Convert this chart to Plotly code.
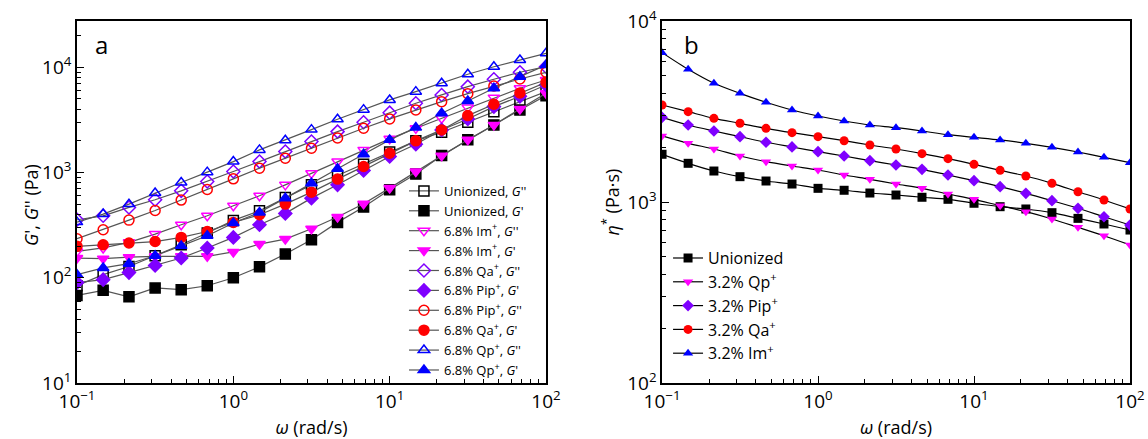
import plotly.graph_objects as go
from plotly.subplots import make_subplots

# ---------------- data ----------------
omega = [0.1, 0.147, 0.215, 0.316, 0.464, 0.681, 1.0, 1.47, 2.15, 3.16,
         4.64, 6.81, 10.0, 14.7, 21.5, 31.6, 46.4, 68.1, 100.0]

# panel a : G' and G'' (Pa)
union_Gpp = [84, 107, 128, 162, 206, 266, 351, 433, 579, 764, 937, 1202, 1563, 2000, 2415, 3007, 3790, 4717, 5870]
union_Gp = [68, 76, 66, 80, 77, 84, 100, 127, 168, 230, 336, 470, 685, 966, 1449, 2044, 2836, 3936, 5380]
im_Gpp = [178, 192, 217, 260, 319, 388, 483, 601, 764, 986, 1271, 1641, 2089, 2638, 3281, 4140, 5150, 6322, 7580]
im_Gp = [154, 152, 157, 160, 160, 160, 176, 209, 233, 292, 378, 505, 711, 1023, 1440, 2044, 2836, 4018, 5667]
qa_Gpp = [356, 388, 466, 551, 670, 822, 1023, 1271, 1582, 1968, 2449, 3007, 3707, 4552, 5462, 6547, 7696, 8970, 10130]
pip_Gp = [90, 96, 112, 131, 154, 192, 242, 319, 409, 571, 764, 1045, 1419, 1860, 2541, 3231, 4230, 5300, 6800]
pip_Gpp = [235, 286, 353, 436, 547, 690, 871, 1101, 1370, 1703, 2134, 2638, 3231, 3936, 4717, 5619, 6650, 7743, 8970]
qa_Gp = [199, 206, 214, 221, 242, 275, 336, 397, 501, 651, 866, 1140, 1528, 2000, 2541, 3474, 4456, 5700, 7200]
qp_Gpp = [338, 403, 501, 638, 804, 1009, 1271, 1641, 2029, 2558, 3212, 3960, 4896, 5869, 7052, 8585, 10130, 11730, 13580]
qp_Gp = [107, 124, 136, 162, 201, 251, 331, 418, 571, 793, 1084, 1495, 2044, 2673, 3661, 4790, 6322, 8150, 10510]

# panel b : complex viscosity (Pa s)
union_eta = [1835, 1636, 1483, 1380, 1306, 1257, 1190, 1161, 1121, 1093, 1062, 1035, 984, 942, 915, 873, 812, 756, 700]
qp_eta = [2317, 2110, 1963, 1795, 1671, 1581, 1503, 1410, 1335, 1257, 1190, 1107, 1035, 954, 884, 806, 725, 651, 579]
pip_eta = [2938, 2663, 2467, 2296, 2138, 2014, 1897, 1795, 1691, 1601, 1516, 1410, 1312, 1215, 1117, 1017, 923, 829, 746]
qa_eta = [3436, 3155, 2900, 2722, 2553, 2415, 2296, 2181, 2065, 1963, 1849, 1735, 1615, 1496, 1392, 1268, 1140, 1026, 915]
im_eta = [6683, 5408, 4528, 3985, 3556, 3222, 2987, 2803, 2663, 2574, 2467, 2354, 2277, 2202, 2110, 2005, 1889, 1766, 1649]

labels_a = ["Unionized, <i>G</i>''", "Unionized, <i>G</i>'",
            "6.8% Im<sup>+</sup>, <i>G</i>''", "6.8% Im<sup>+</sup>, <i>G</i>'",
            "6.8% Qa<sup>+</sup>, <i>G</i>''", "6.8% Pip<sup>+</sup>, <i>G</i>'",
            "6.8% Pip<sup>+</sup>, <i>G</i>''", "6.8% Qa<sup>+</sup>, <i>G</i>'",
            "6.8% Qp<sup>+</sup>, <i>G</i>''", "6.8% Qp<sup>+</sup>, <i>G</i>'"]
labels_b = ["Unionized", "3.2% Qp<sup>+</sup>", "3.2% Pip<sup>+</sup>",
            "3.2% Qa<sup>+</sup>", "3.2% Im<sup>+</sup>"]
tick_vals = [0.1, 1, 10, 100, 1000, 10000]
tick_text = ["10<sup>\u22121</sup>", "10<sup>0</sup>", "10<sup>1</sup>",
             "10<sup>2</sup>", "10<sup>3</sup>", "10<sup>4</sup>"]

BLACK, MAG, PUR, RED, BLUE = "#000000", "#ff00ff", "#7f00ff", "#ff0000", "#0000ff"
FONT = "Open Sans"

fig = make_subplots(rows=1, cols=2, horizontal_spacing=0.11)
fig.update_layout(xaxis=dict(domain=[0, 0.4454]), xaxis2=dict(domain=[0.5556, 1]))

series_a = [
    (union_Gpp, "square-open", BLACK), (union_Gp, "square", BLACK),
    (im_Gpp, "triangle-down-open", MAG), (im_Gp, "triangle-down", MAG),
    (qa_Gpp, "diamond-open", PUR), (pip_Gp, "diamond", PUR),
    (pip_Gpp, "circle-open", RED), (qa_Gp, "circle", RED),
    (qp_Gpp, "triangle-up-open", BLUE), (qp_Gp, "triangle-up", BLUE),
]
for (vals, sym, col), name in zip(series_a, labels_a):
    fig.add_trace(go.Scatter(
        x=omega, y=vals, name=name, mode="lines+markers",
        line=dict(color="#555555", width=1.2),
        marker=dict(symbol=sym, color=col, size=10,
                    line=dict(color=col, width=1.5)),
        legend="legend"), row=1, col=1)

series_b = [
    (union_eta, "square", BLACK), (qp_eta, "triangle-down", MAG),
    (pip_eta, "diamond", PUR), (qa_eta, "circle", RED),
    (im_eta, "triangle-up", BLUE),
]
for (vals, sym, col), name in zip(series_b, labels_b):
    fig.add_trace(go.Scatter(
        x=omega, y=vals, name=name, mode="lines+markers",
        line=dict(color="#000000", width=1.2, shape="spline", smoothing=0.8),
        marker=dict(symbol=sym, color=col, size=9, line=dict(width=0)),
        legend="legend2"), row=1, col=2)

minor_vals = [m * 10 ** e for e in range(-2, 5) for m in range(2, 10)]
axis_common = dict(
    type="log", showgrid=False, zeroline=False, showline=True, linecolor="black",
    linewidth=1.5, mirror=True, ticks="inside", ticklen=7, tickwidth=1.2,
    tickcolor="black", tickmode="array", tickvals=tick_vals, ticktext=tick_text,
    tickfont=dict(family=FONT, size=19, color="black"), automargin=False,
    ticklabeloverflow="allow",
    minor=dict(ticks="inside", ticklen=4, tickwidth=1, tickcolor="black",
               tickmode="array", tickvals=minor_vals, showgrid=False),
)
fig.update_xaxes(**axis_common)
fig.update_yaxes(**axis_common)
fig.update_xaxes(range=[-1, 2], title=dict(text="<i>\u03c9</i> (rad/s)", standoff=12,
                 font=dict(family=FONT, size=18, color="black")))
fig.update_yaxes(range=[1, 4.44], row=1, col=1)
fig.update_yaxes(range=[2, 4], row=1, col=2,
                 title=dict(text="<i>\u03b7</i><sup>*</sup> (Pa\u00b7s)", standoff=3,
                            font=dict(family=FONT, size=18, color="black")))

fig.update_layout(
    width=1148, height=439,
    margin=dict(l=77, r=18, t=21, b=56),
    paper_bgcolor="white", plot_bgcolor="white",
    font=dict(family=FONT, color="black"),
    showlegend=True,
    legend=dict(x=0.3105, y=0.572, xanchor="left", yanchor="top",
                bgcolor="rgba(0,0,0,0)", font=dict(family=FONT, size=13),
                tracegroupgap=0),
    legend2=dict(x=0.5613, y=0.392, xanchor="left", yanchor="top",
                 bgcolor="rgba(0,0,0,0)", font=dict(family=FONT, size=16),
                 tracegroupgap=0),
    annotations=[
        dict(text="a", xref="paper", yref="paper", x=0.0228, y=0.934,
             xanchor="center", yanchor="middle",
             showarrow=False, font=dict(family=FONT, size=24)),
        dict(text="b", xref="paper", yref="paper", x=0.584, y=0.934,
             xanchor="center", yanchor="middle",
             showarrow=False, font=dict(family=FONT, size=24)),
        dict(text="<i>G</i>', <i>G</i>'' (Pa)", xref="paper", yref="paper",
             x=-0.0437, y=0.492, xanchor="center", yanchor="middle",
             textangle=-90, showarrow=False,
             font=dict(family=FONT, size=18, color="black")),
    ],
)

# remove the default 8px page margin so the figure fills the window exactly
fig.write_html(
    "out.html",
    config={"displayModeBar": False},
    post_script="document.body.style.margin='0px';document.body.style.overflow='hidden';",
)
